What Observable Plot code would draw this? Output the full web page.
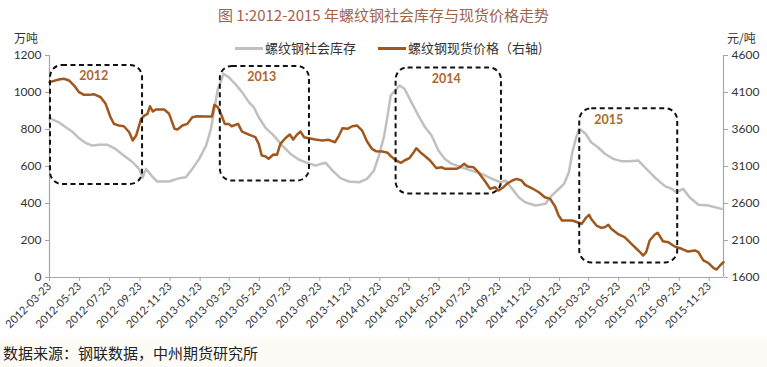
<!DOCTYPE html>
<html><head><meta charset="utf-8">
<script src="https://cdn.jsdelivr.net/npm/d3@7"></script>
<script src="https://cdn.jsdelivr.net/npm/@observablehq/plot@0.6"></script>
<style>
body{margin:0;background:#fff;}
#wrap{position:relative;width:767px;height:367px;overflow:hidden;font-family:"Noto Sans CJK SC",sans-serif;background:#fff;}
#title{position:absolute;top:4px;left:0;width:767px;text-align:center;font-size:15px;color:#a0634a;white-space:nowrap;}
.leg{position:absolute;top:38px;font-size:13px;color:#333;white-space:nowrap;line-height:20px;}
.sw{display:inline-block;width:28px;height:3px;vertical-align:middle;margin-right:2px;position:relative;top:-1px;}
.unit{position:absolute;top:31px;font-size:12px;line-height:13px;color:#333;white-space:nowrap;}
#foot{position:absolute;left:0;top:338px;width:767px;height:29px;background:#fdfbf6;}
#foot span{position:absolute;left:3px;top:4px;font-size:15px;color:#222;white-space:nowrap;}
svg{position:absolute;left:0;top:0;}
</style></head>
<body>
<div id="wrap">
  <div id="title">图 1:2012-2015 年螺纹钢社会库存与现货价格走势</div>
  <div class="unit" style="left:14px">万吨</div>
  <div class="unit" style="left:727px">元/吨</div>
  <div class="leg" style="left:235px"><span class="sw" style="background:#c0c0c0"></span>螺纹钢社会库存</div>
  <div class="leg" style="left:378px"><span class="sw" style="background:#a0561c"></span>螺纹钢现货价格（右轴)</div>
  <div id="foot"><span>数据来源：钢联数据，中州期货研究所</span></div>
</div>
<script>
// 螺纹钢社会库存 (万吨)
const invDates = ["2012-03-23","2012-04-11","2012-04-25","2012-05-08","2012-05-22","2012-06-04","2012-06-18","2012-07-02","2012-07-19","2012-08-04",
"2012-08-21","2012-09-08","2012-09-21","2012-09-28","2012-10-05","2012-10-19","2012-10-28","2012-11-21","2012-12-12","2012-12-25",
"2013-01-07","2013-01-21","2013-02-04","2013-02-14","2013-02-21","2013-02-28","2013-03-07","2013-03-11","2013-03-22","2013-04-04",
"2013-04-18","2013-05-02","2013-05-12","2013-05-22","2013-06-04","2013-06-21","2013-07-09","2013-07-25","2013-08-11","2013-08-28",
"2013-09-14","2013-09-25","2013-10-05","2013-10-19","2013-11-04","2013-11-21","2013-12-12","2013-12-28","2014-01-11","2014-01-21",
"2014-02-01","2014-02-11","2014-02-14","2014-03-04","2014-03-14","2014-03-28","2014-04-11","2014-04-25","2014-05-08","2014-05-22",
"2014-06-04","2014-06-18","2014-07-08","2014-07-28","2014-08-18","2014-09-08","2014-09-25","2014-10-05","2014-10-19","2014-11-01",
"2014-11-14","2014-12-05","2014-12-25","2015-01-07","2015-01-25","2015-02-01","2015-02-11","2015-02-18","2015-02-25","2015-03-04",
"2015-03-17","2015-03-28","2015-04-11","2015-04-25","2015-05-12","2015-05-28","2015-06-14","2015-07-02","2015-07-15","2015-08-04",
"2015-08-25","2015-09-08","2015-09-18","2015-10-01","2015-10-14","2015-11-01","2015-11-21","2015-12-18"];
const invValues = [862,839,812,789,753,728,713,717,717,695,
659,623,587,540,587,542,519,519,537,542,
587,641,713,804,912,1020,1065,1101,1083,1047,
1002,948,920,866,812,768,713,669,638,620,
605,614,620,578,537,519,515,533,578,659,
768,930,984,1038,1020,948,876,812,768,686,
641,614,596,578,560,533,515,524,479,434,
407,389,398,443,488,506,569,677,750,804,
777,731,704,669,641,629,629,632,596,542,
494,479,461,479,434,393,389,371];

// 螺纹钢现货价格 (元/吨, 右轴)
const priceDates = ["2012-03-23","2012-04-11","2012-04-21","2012-05-02","2012-05-12","2012-05-22","2012-06-01","2012-06-11","2012-06-21","2012-07-05",
"2012-07-15","2012-07-25","2012-08-01","2012-08-11","2012-08-21","2012-09-01","2012-09-08","2012-09-15","2012-09-25","2012-10-02",
"2012-10-08","2012-10-13","2012-10-19","2012-10-25","2012-11-11","2012-11-21","2012-12-02","2012-12-08","2012-12-18","2012-12-28",
"2013-01-07","2013-01-17","2013-02-01","2013-02-16","2013-02-21","2013-02-28","2013-03-07","2013-03-14","2013-03-22","2013-03-28",
"2013-04-10","2013-04-18","2013-05-02","2013-05-15","2013-05-22","2013-05-28","2013-06-04","2013-06-11","2013-06-21","2013-06-28",
"2013-07-05","2013-07-15","2013-07-24","2013-07-31","2013-08-08","2013-08-15","2013-08-22","2013-09-01","2013-09-14","2013-09-28",
"2013-10-11","2013-10-24","2013-11-01","2013-11-08","2013-11-18","2013-11-28","2013-12-08","2013-12-18","2013-12-28","2014-01-07",
"2014-01-15","2014-01-28","2014-02-08","2014-02-14","2014-02-25","2014-03-07","2014-03-14","2014-03-24","2014-04-01","2014-04-07",
"2014-04-15","2014-04-25","2014-05-05","2014-05-18","2014-05-28","2014-06-04","2014-06-28","2014-07-05","2014-07-13","2014-07-20",
"2014-08-01","2014-08-11","2014-08-25","2014-09-04","2014-09-14","2014-09-21","2014-10-01","2014-10-08","2014-10-19","2014-10-28",
"2014-11-07","2014-11-14","2014-11-28","2014-12-12","2014-12-24","2015-01-04","2015-01-14","2015-01-21","2015-01-28","2015-02-18",
"2015-02-28","2015-03-09","2015-03-17","2015-03-24","2015-03-28","2015-04-08","2015-04-18","2015-04-25","2015-05-02","2015-05-08",
"2015-05-21","2015-06-04","2015-06-18","2015-07-02","2015-07-12","2015-07-18","2015-07-25","2015-08-04","2015-08-10","2015-08-14",
"2015-08-21","2015-09-01","2015-09-14","2015-09-28","2015-10-11","2015-10-25","2015-11-01","2015-11-11","2015-11-21","2015-12-02",
"2015-12-08","2015-12-15","2015-12-22"];
const priceValues = [4240,4275,4285,4262,4194,4104,4068,4068,4077,4036,
3947,3766,3676,3654,3644,3563,3451,3518,3744,3789,
3812,3914,3843,3870,3870,3812,3609,3600,3654,3676,
3766,3779,3775,3775,3933,3901,3800,3676,3676,3644,
3676,3572,3532,3496,3406,3248,3239,3204,3262,3258,
3406,3482,3532,3464,3532,3572,3496,3482,3464,3451,
3460,3428,3518,3617,3609,3644,3654,3586,3437,3339,
3307,3302,3285,3240,3181,3150,3181,3212,3285,3347,
3293,3239,3181,3077,3091,3069,3069,3091,3136,3100,
3091,3023,2897,2798,2820,2775,2820,2866,2911,2933,
2911,2852,2806,2752,2685,2663,2560,2438,2370,2370,
2347,2325,2401,2447,2393,2302,2271,2280,2312,2258,
2190,2145,2055,1965,1897,1942,2100,2177,2204,2167,
2090,2077,2019,1988,1951,1965,1942,1830,1799,1726,
1708,1762,1807];

// Axis ticks
const xTickLabels = ["2012-03-23","2012-05-23","2012-07-23","2012-09-23","2012-11-23","2013-01-23","2013-03-23","2013-05-23","2013-07-23","2013-09-23","2013-11-23","2014-01-23","2014-03-23","2014-05-23","2014-07-23","2014-09-23","2014-11-23","2015-01-23","2015-03-23","2015-05-23","2015-07-23","2015-09-23","2015-11-23"];
const leftTicks = [0,200,400,600,800,1000,1200];
const rightTicks = [1600,2100,2600,3100,3600,4100,4600];
const xStart = "2012-03-23", xEnd = "2015-12-22";

// Highlight boxes (annotation, in data units)
const boxYears = ["2012","2013","2014","2015"];
const boxStarts = ["2012-03-25","2013-03-05","2014-02-25","2015-03-05"];
const boxEnds = ["2012-09-28","2013-09-02","2014-09-27","2015-09-20"];
const boxTops = [1146,1141,1133,912];
const boxBottoms = [503,521,452,79];
const boxLabelDates = ["2012-06-21","2013-05-28","2014-06-07","2015-05-03"];

const parse = d3.utcParse("%Y-%m-%d");
const inv = invDates.map((d,i)=>({date:parse(d), value:invValues[i]}));
const price = priceDates.map((d,i)=>({date:parse(d), value:priceValues[i]}));
const boxes = boxYears.map((y,i)=>({year:y, start:parse(boxStarts[i]), end:parse(boxEnds[i]), top:boxTops[i], bottom:boxBottoms[i], label:parse(boxLabelDates[i])}));

// map right-axis price to left-axis units
const pMin = rightTicks[0], pMax = rightTicks[rightTicks.length-1];
const lMax = leftTicks[leftTicks.length-1];
const toLeft = p => (p - pMin) / (pMax - pMin) * lMax;
const toRight = l => pMin + l / lMax * (pMax - pMin);

const axisColor = "#a6a6a6";
const chart = Plot.plot({
  width: 767, height: 340,
  marginTop: 55, marginBottom: 63, marginLeft: 49, marginRight: 44,
  x: {type: "utc", domain: [parse(xStart), parse(xEnd)]},
  y: {domain: [0, lMax]},
  style: {fontFamily: "Lato, 'Noto Sans', sans-serif", fontSize: "11px", color: "#333", background: "transparent"},
  marks: [
    Plot.ruleY([0], {stroke: axisColor, strokeWidth: 1.2}),
    Plot.ruleX([parse(xStart)], {stroke: axisColor, strokeWidth: 1.2}),
    Plot.ruleX([parse(xEnd)], {stroke: axisColor, strokeWidth: 1.2}),
    Plot.axisY({ticks: leftTicks, anchor: "left", tickSize: 4, tickPadding: 4, label: null, tickFormat: d => String(d), stroke: axisColor, fill: "#333", fontSize: 12}),
    Plot.axisY({ticks: rightTicks.map(toLeft), anchor: "right", tickSize: 4, tickPadding: 4, label: null, tickFormat: l => String(Math.round(toRight(l))), stroke: axisColor, fill: "#333", fontSize: 12}),
    Plot.axisX({ticks: xTickLabels.map(parse), tickFormat: d3.utcFormat("%Y-%m-%d"), tickRotate: -45, tickSize: 4, tickPadding: 3, label: null, stroke: axisColor, fill: "#333", fontSize: 11}),
    Plot.line(inv, {x: "date", y: "value", stroke: "#c0c0c0", strokeWidth: 2.5}),
    Plot.line(price, {x: "date", y: d => toLeft(d.value), stroke: "#a0561c", strokeWidth: 2.5}),
    Plot.rect(boxes, {x1: "start", x2: "end", y1: "bottom", y2: "top", fill: "none", stroke: "#111", strokeWidth: 2, strokeDasharray: "5,3.5", rx: 12}),
    Plot.text(boxes, {x: "label", y: "top", text: "year", dy: 11, fill: "#b0652b", fontWeight: "bold", fontSize: 12.5})
  ]
});
document.getElementById("wrap").appendChild(chart);
</script>
</body></html>
